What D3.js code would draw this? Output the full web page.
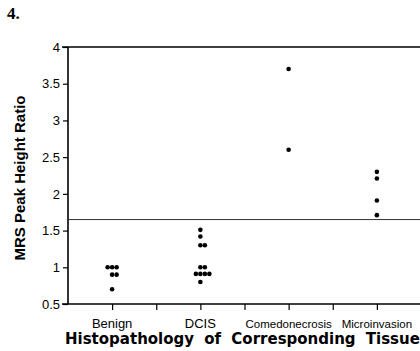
<!DOCTYPE html>
<html>
<head>
<meta charset="UTF-8">
<title>MRS peak height ratio</title>
<style>
body { margin: 0; background: #fff; }
</style>
</head>
<body>
<script src="https://cdn.jsdelivr.net/npm/d3@7"></script>
<script>
var categories = ["Benign", "DCIS", "Comedonecrosis", "Microinvasion"];
var benign = [1.0, 1.0, 1.0, 0.9, 0.9, 0.7];
var dcis = [1.51, 1.42, 1.3, 1.3, 1.0, 1.0, 0.91, 0.91, 0.91, 0.91, 0.8];
var comedo = [3.7, 2.6];
var microinv = [2.3, 2.21, 1.91, 1.71];
var threshold = 1.65;
var yTicks = [0.5, 1, 1.5, 2, 2.5, 3, 3.5, 4];

var width = 420, height = 351;
var svg = d3.select("body").append("svg")
  .attr("width", width)
  .attr("height", height);

var x = d3.scaleLinear().domain([0, 8]).range([68, 421]);
var y = d3.scaleLinear().domain([0.5, 4]).range([304, 47]);

// figure number
svg.append("text")
  .attr("x", 7).attr("y", 19)
  .style("font", "bold 17px 'Liberation Serif', serif")
  .text("4.");

// y axis
var yAxis = svg.append("g")
  .attr("transform", "translate(68,0)")
  .call(d3.axisLeft(y).tickValues(yTicks).tickSize(5).tickPadding(3)
    .tickFormat(function(d){ return d; }));
yAxis.select(".domain").remove();
yAxis.selectAll("line").attr("stroke-width", 1.2);
yAxis.selectAll("text")
  .style("font", "13px 'Liberation Sans', Arial, sans-serif")
  .attr("fill", "#000");
svg.append("line")
  .attr("x1", 68).attr("x2", 68)
  .attr("y1", y(4)).attr("y2", y(0.5))
  .attr("stroke", "#000").attr("stroke-width", 1.6);

// x axis (ticks below, labels under every other tick)
var xAxis = svg.append("g")
  .attr("transform", "translate(0,304)")
  .call(d3.axisBottom(x).tickValues(d3.range(1, 9)).tickSize(6).tickFormat(""));
xAxis.select(".domain").remove();
xAxis.selectAll("line").attr("stroke-width", 1.2);
svg.append("line")
  .attr("x1", 62).attr("x2", width)
  .attr("y1", y(0.5)).attr("y2", y(0.5))
  .attr("stroke", "#000").attr("stroke-width", 1.4);

// top border line
svg.append("line")
  .attr("x1", 62).attr("x2", width)
  .attr("y1", y(4)).attr("y2", y(4))
  .attr("stroke", "#000").attr("stroke-width", 1.5);

// threshold line
svg.append("line")
  .attr("x1", 68).attr("x2", width)
  .attr("y1", y(threshold)).attr("y2", y(threshold))
  .attr("stroke", "#333").attr("stroke-width", 1);

// category labels
var labelSize = [13, 13, 11.5, 11.5];
svg.selectAll("text.cat")
  .data(categories)
  .enter().append("text")
  .attr("class", "cat")
  .attr("x", function(d, i){ return x(1 + 2 * i); })
  .attr("y", 328)
  .attr("text-anchor", "middle")
  .style("font-family", "'Liberation Sans', Arial, sans-serif")
  .style("font-size", function(d, i){ return labelSize[i] + "px"; })
  .text(function(d){ return d; });

// x title
svg.append("text")
  .attr("x", 65).attr("y", 344)
  .style("font", "bold 15px 'DejaVu Sans', sans-serif")
  .style("word-spacing", "5px")
  .text("Histopathology of Corresponding Tissue");

// y title
svg.append("text")
  .attr("transform", "translate(25,178) rotate(-90)")
  .attr("text-anchor", "middle")
  .style("font", "bold 15px 'Liberation Sans', Arial, sans-serif")
  .text("MRS Peak Height Ratio");

// column scatter: equal values spread 0, +1, -1, +2, ...
var step = 4.5;
function spread(vals, idx) {
  var seen = {};
  return vals.map(function(v) {
    var k = seen[v] || 0;
    seen[v] = k + 1;
    var off = k === 0 ? 0 : (k % 2 ? (k + 1) / 2 : -k / 2);
    return {cx: x(1 + 2 * idx) + off * step, cy: y(v)};
  });
}
var groups = [benign, dcis, comedo, microinv];
groups.forEach(function(vals, i) {
  svg.selectAll(null)
    .data(spread(vals, i))
    .enter().append("circle")
    .attr("cx", function(d){ return d.cx; })
    .attr("cy", function(d){ return d.cy; })
    .attr("r", 2.3)
    .attr("fill", "#000");
});
</script>
</body>
</html>
